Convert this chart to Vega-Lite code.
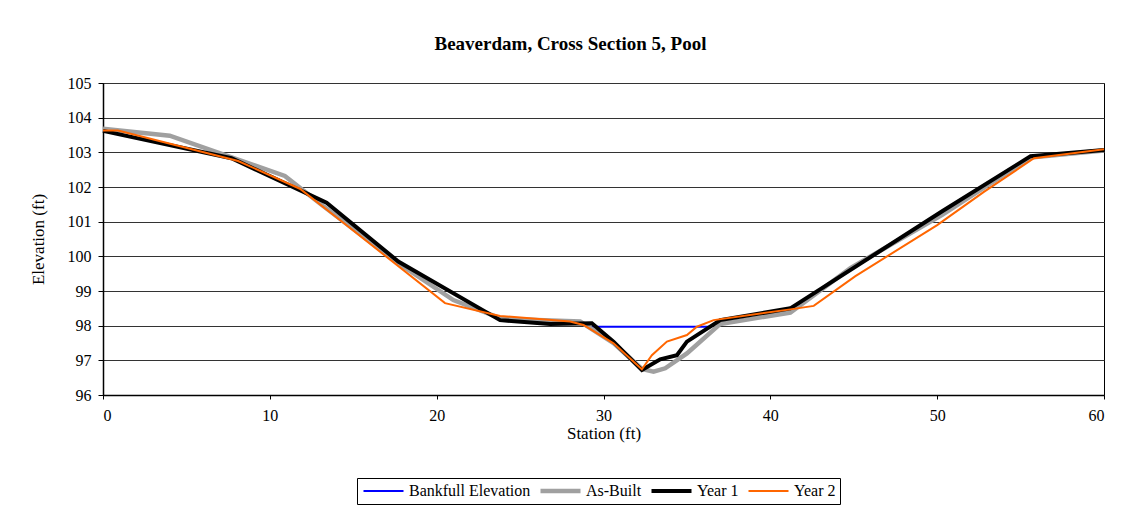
{
  "$schema": "https://vega.github.io/schema/vega-lite/v6.json",
  "autosize": "none",
  "width": 1001,
  "height": 312,
  "padding": {"left": 103, "top": 83, "right": 31, "bottom": 123},
  "background": "white",
  "title": {
    "text": "Beaverdam, Cross Section 5, Pool",
    "font": "Liberation Serif",
    "fontSize": 19,
    "fontWeight": "bold",
    "color": "black",
    "anchor": "middle",
    "frame": "group",
    "baseline": "alphabetic",
    "offset": 6,
    "dx": -33
  },
  "datasets": {
    "xs": [
      {"series": "Bankfull Elevation", "station": 29.3, "elevation": 97.97},
      {"series": "Bankfull Elevation", "station": 36.5, "elevation": 97.97},

      {"series": "As-Built", "station": 0, "elevation": 103.68},
      {"series": "As-Built", "station": 4.0, "elevation": 103.48},
      {"series": "As-Built", "station": 10.9, "elevation": 102.32},
      {"series": "As-Built", "station": 13.2, "elevation": 101.45},
      {"series": "As-Built", "station": 17.7, "elevation": 99.8},
      {"series": "As-Built", "station": 21.0, "elevation": 98.74},
      {"series": "As-Built", "station": 23.9, "elevation": 98.2},
      {"series": "As-Built", "station": 28.6, "elevation": 98.12},
      {"series": "As-Built", "station": 30.6, "elevation": 97.5},
      {"series": "As-Built", "station": 32.3, "elevation": 96.75},
      {"series": "As-Built", "station": 33.0, "elevation": 96.67},
      {"series": "As-Built", "station": 33.7, "elevation": 96.77},
      {"series": "As-Built", "station": 35.0, "elevation": 97.2},
      {"series": "As-Built", "station": 37.0, "elevation": 98.05},
      {"series": "As-Built", "station": 41.2, "elevation": 98.38},
      {"series": "As-Built", "station": 44.8, "elevation": 99.66},
      {"series": "As-Built", "station": 50.3, "elevation": 101.2},
      {"series": "As-Built", "station": 55.6, "elevation": 102.85},
      {"series": "As-Built", "station": 60, "elevation": 103.05},

      {"series": "Year 1", "station": 0, "elevation": 103.62},
      {"series": "Year 1", "station": 7.7, "elevation": 102.83},
      {"series": "Year 1", "station": 13.4, "elevation": 101.55},
      {"series": "Year 1", "station": 17.7, "elevation": 99.85},
      {"series": "Year 1", "station": 23.8, "elevation": 98.16},
      {"series": "Year 1", "station": 26.8, "elevation": 98.05},
      {"series": "Year 1", "station": 29.3, "elevation": 98.07},
      {"series": "Year 1", "station": 30.6, "elevation": 97.54},
      {"series": "Year 1", "station": 32.3, "elevation": 96.72},
      {"series": "Year 1", "station": 33.4, "elevation": 97.03},
      {"series": "Year 1", "station": 34.4, "elevation": 97.15},
      {"series": "Year 1", "station": 35.0, "elevation": 97.54},
      {"series": "Year 1", "station": 37.0, "elevation": 98.16},
      {"series": "Year 1", "station": 41.2, "elevation": 98.5},
      {"series": "Year 1", "station": 50.3, "elevation": 101.3},
      {"series": "Year 1", "station": 55.6, "elevation": 102.89},
      {"series": "Year 1", "station": 60, "elevation": 103.07},

      {"series": "Year 2", "station": 0, "elevation": 103.63},
      {"series": "Year 2", "station": 0.9, "elevation": 103.63},
      {"series": "Year 2", "station": 8.1, "elevation": 102.75},
      {"series": "Year 2", "station": 11.8, "elevation": 101.95},
      {"series": "Year 2", "station": 14.2, "elevation": 101.05},
      {"series": "Year 2", "station": 20.5, "elevation": 98.65},
      {"series": "Year 2", "station": 23.8, "elevation": 98.28},
      {"series": "Year 2", "station": 28.0, "elevation": 98.12},
      {"series": "Year 2", "station": 28.8, "elevation": 98.02},
      {"series": "Year 2", "station": 30.6, "elevation": 97.49},
      {"series": "Year 2", "station": 32.3, "elevation": 96.74},
      {"series": "Year 2", "station": 32.9, "elevation": 97.15},
      {"series": "Year 2", "station": 33.8, "elevation": 97.54},
      {"series": "Year 2", "station": 35.0, "elevation": 97.73},
      {"series": "Year 2", "station": 35.6, "elevation": 97.97},
      {"series": "Year 2", "station": 36.6, "elevation": 98.16},
      {"series": "Year 2", "station": 41.2, "elevation": 98.47},
      {"series": "Year 2", "station": 42.6, "elevation": 98.57},
      {"series": "Year 2", "station": 45.1, "elevation": 99.43},
      {"series": "Year 2", "station": 50.0, "elevation": 100.9},
      {"series": "Year 2", "station": 52.8, "elevation": 101.86},
      {"series": "Year 2", "station": 55.8, "elevation": 102.83},
      {"series": "Year 2", "station": 60, "elevation": 103.09}
    ]
  },
  "data": {"name": "xs"},
  "encoding": {
    "x": {
      "field": "station", "type": "quantitative",
      "scale": {"domain": [0, 60], "nice": false},
      "axis": {
        "title": "Station (ft)",
        "values": [0, 10, 20, 30, 40, 50, 60],
        "grid": false,
        "tickSize": 4,
        "labelPadding": 8,
        "titlePadding": 2,
        "labelFont": "Liberation Serif",
        "titleFont": "Liberation Serif"
      }
    },
    "y": {
      "field": "elevation", "type": "quantitative",
      "scale": {"domain": [96, 105], "nice": false, "zero": false},
      "axis": {
        "title": "Elevation (ft)",
        "values": [96, 97, 98, 99, 100, 101, 102, 103, 104, 105],
        "grid": true,
        "tickSize": 5,
        "labelPadding": 7,
        "titlePadding": 20,
        "labelFont": "Liberation Serif",
        "titleFont": "Liberation Serif"
      }
    },
    "color": {
      "field": "series", "type": "nominal",
      "scale": {
        "domain": ["Bankfull Elevation", "As-Built", "Year 1", "Year 2"],
        "range": ["#0000FF", "#A0A0A0", "#000000", "#FF6600"]
      },
      "legend": {
        "title": null,
        "orient": "none",
        "legendX": 254,
        "legendY": 395,
        "direction": "horizontal",
        "columns": 4,
        "symbolType": "stroke",
        "symbolSize": 1600,
        "clipHeight": 18,
        "labelFont": "Liberation Serif",
        "labelFontSize": 16,
        "labelColor": "black",
        "labelOffset": 3,
        "columnPadding": 7,
        "padding": 4,
        "strokeColor": "black",
        "fillColor": "white"
      }
    },
    "strokeWidth": {
      "field": "series", "type": "nominal",
      "scale": {
        "type": "ordinal",
        "domain": ["Bankfull Elevation", "As-Built", "Year 1", "Year 2"],
        "range": [2, 4.5, 4, 2]
      },
      "legend": {
        "title": null,
        "orient": "none",
        "legendX": 254,
        "legendY": 395,
        "direction": "horizontal",
        "columns": 4,
        "symbolType": "stroke",
        "symbolSize": 1600,
        "clipHeight": 18,
        "labelFont": "Liberation Serif",
        "labelFontSize": 16,
        "labelColor": "black",
        "labelOffset": 3,
        "columnPadding": 7,
        "padding": 4,
        "strokeColor": "black",
        "fillColor": "white"
      }
    }
  },
  "layer": [
    {"transform": [{"filter": "datum.series === 'Bankfull Elevation'"}], "mark": {"type": "line", "strokeJoin": "miter"}},
    {"transform": [{"filter": "datum.series === 'As-Built'"}], "mark": {"type": "line", "strokeJoin": "miter"}},
    {"transform": [{"filter": "datum.series === 'Year 1'"}], "mark": {"type": "line", "strokeJoin": "miter"}},
    {"transform": [{"filter": "datum.series === 'Year 2'"}], "mark": {"type": "line", "strokeJoin": "miter"}}
  ],
  "config": {
    "view": {"stroke": "#000000", "strokeWidth": 1},
    "font": "Liberation Serif",
    "axis": {
      "labelFont": "Liberation Serif",
      "labelFontSize": 16,
      "labelColor": "black",
      "titleFont": "Liberation Serif",
      "titleFontSize": 17,
      "titleFontWeight": "normal",
      "titleColor": "black",
      "domainColor": "black",
      "domainWidth": 1.5,
      "tickColor": "black",
      "gridColor": "#333333",
      "gridWidth": 1,
      "gridOpacity": 1
    }
  }
}
